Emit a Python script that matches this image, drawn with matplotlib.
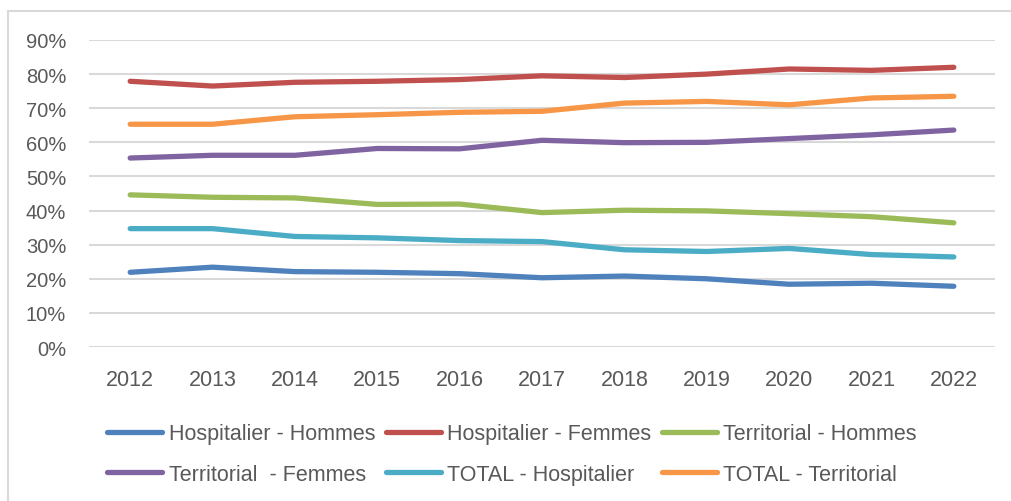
import matplotlib
matplotlib.use("Agg")
import matplotlib.pyplot as plt
from matplotlib.patches import Rectangle
from matplotlib.ticker import PercentFormatter

years = [2012, 2013, 2014, 2015, 2016, 2017, 2018, 2019, 2020, 2021, 2022]
hosp_hommes = [21.9, 23.4, 22.1, 21.9, 21.5, 20.3, 20.8, 20.0, 18.4, 18.7, 17.8]
hosp_femmes = [77.9, 76.5, 77.6, 77.9, 78.4, 79.5, 79.0, 80.0, 81.5, 81.1, 82.0]
terr_hommes = [44.6, 43.9, 43.7, 41.8, 41.9, 39.4, 40.1, 39.9, 39.1, 38.2, 36.4]
terr_femmes = [55.4, 56.2, 56.2, 58.2, 58.1, 60.6, 59.9, 60.0, 61.1, 62.2, 63.6]
total_hosp = [34.7, 34.7, 32.4, 32.0, 31.2, 30.9, 28.5, 28.0, 28.9, 27.1, 26.4]
total_terr = [65.3, 65.3, 67.5, 68.1, 68.8, 69.1, 71.5, 72.0, 71.0, 73.0, 73.5]

series = [
    ("Hospitalier - Hommes", hosp_hommes, "#4F81BD"),
    ("Hospitalier - Femmes", hosp_femmes, "#C0504D"),
    ("Territorial - Hommes", terr_hommes, "#9BBB59"),
    ("Territorial  - Femmes", terr_femmes, "#8064A2"),
    ("TOTAL - Hospitalier", total_hosp, "#4BACC6"),
    ("TOTAL - Territorial", total_terr, "#F79646"),
]

plt.rcParams['font.family'] = ['Liberation Sans', 'DejaVu Sans']
W, H = 1012, 502
fig = plt.figure(figsize=(W / 100, H / 100), dpi=100)
fig.patches.append(Rectangle((8 / W, -0.1), 1.2, 1 - 12 / H + 0.1, transform=fig.transFigure,
                             fill=False, edgecolor="#D9D9D9", linewidth=1.5))

ax = fig.add_axes([89 / W, (H - 348) / H, (995 - 89) / W, (348 - 41) / H])
xs = list(range(len(years)))
handles = []
for label, vals, col in series:
    ln, = ax.plot(xs, vals, color=col, linewidth=3.8, solid_capstyle="round", label=label)
    handles.append(ln)

ax.set_xlim(-0.5, len(years) - 0.5)
ax.set_ylim(0, 90)
ax.set_yticks(range(0, 91, 10))
ax.yaxis.set_major_formatter(PercentFormatter(decimals=0))
ax.set_xticks(xs)
ax.set_xticklabels([str(y) for y in years])
ax.grid(axis="y", color="#D9D9D9", linewidth=1.5)
ax.set_axisbelow(True)
for s in ax.spines.values():
    s.set_visible(False)
ax.tick_params(axis="both", length=0, labelcolor="#595959")
ax.tick_params(axis="y", pad=16.5, labelsize=14.5)
ax.tick_params(axis="x", pad=16, labelsize=15.5)

# legend filled row by row (matplotlib fills column-wise)
order = [0, 3, 1, 4, 2, 5]
leg = fig.legend([handles[i] for i in order], [series[i][0] for i in order],
                 loc="upper left", bbox_to_anchor=(88 / W, 1 - 405 / H), ncol=3,
                 frameon=False, fontsize=15.5, handlelength=2.56, handletextpad=0.28,
                 columnspacing=0.5, labelspacing=0.9, labelcolor="#595959")

fig.savefig("out.png", dpi=100)
